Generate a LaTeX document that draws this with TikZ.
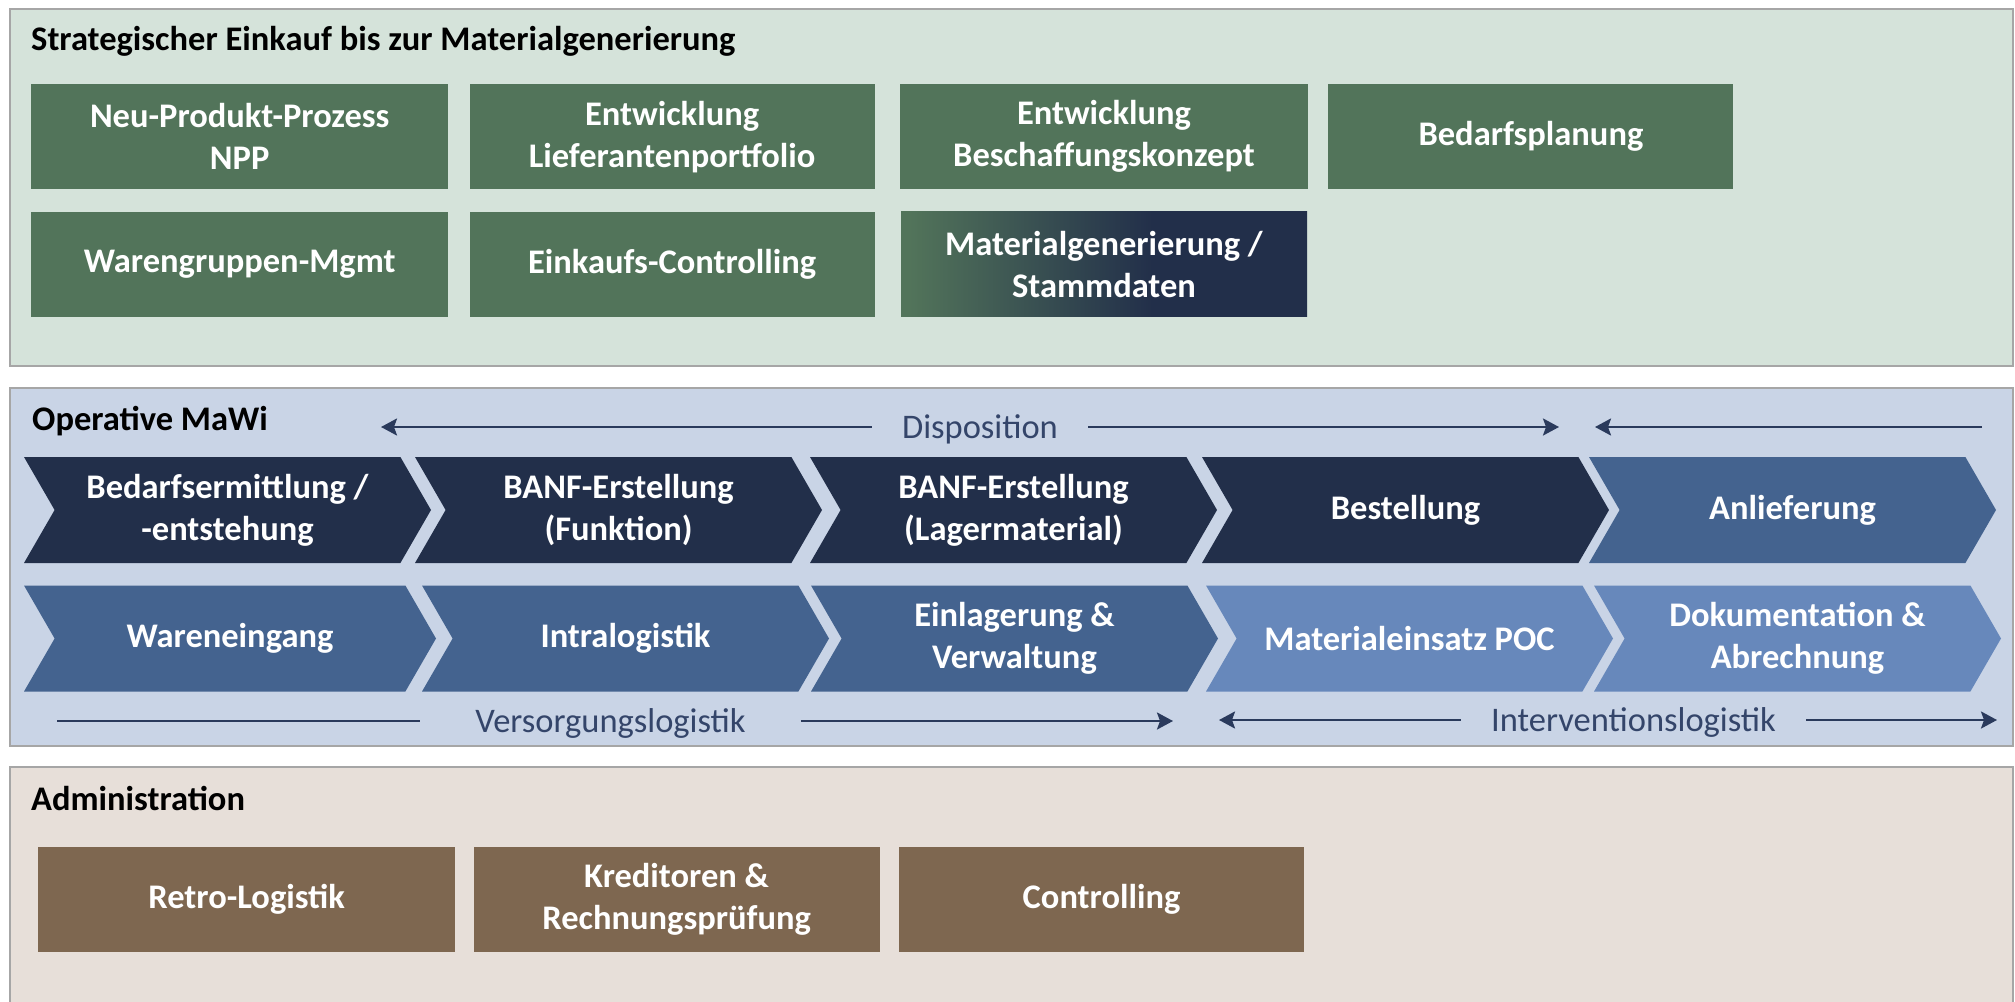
\documentclass[tikz,border=0pt]{standalone}
\usepackage{fontspec}
\setmainfont{Carlito}
\usetikzlibrary{positioning,shapes.symbols,arrows.meta}

\definecolor{gruen}{HTML}{52745A}
\definecolor{gruenbg}{HTML}{D5E3DA}
\definecolor{navy}{HTML}{222F4A}
\definecolor{mittelblau}{HTML}{44638F}
\definecolor{hellblau}{HTML}{6788BB}
\definecolor{blaubg}{HTML}{C9D4E6}
\definecolor{braun}{HTML}{7E6750}
\definecolor{braunbg}{HTML}{E7DFD9}
\definecolor{rahmen}{HTML}{A6A6A6}
\definecolor{pfeilblau}{HTML}{2A3A5C}
\definecolor{beschrblau}{HTML}{34456A}

\pgfdeclarehorizontalshading{gruenzublau}{100bp}{color(0bp)=(gruen); color(26bp)=(gruen); color(56bp)=(navy); color(100bp)=(navy)}

\begin{document}
\begin{tikzpicture}[x=1pt,y=-1pt,
    every node/.style={font=\fontsize{34.5}{42}\selectfont},
    panel/.style={draw=rahmen,line width=2.5pt},
    titel/.style={anchor=base west,inner sep=0pt,font=\fontsize{34.5}{42}\selectfont\bfseries},
    kachel/.style={rectangle,minimum height=105pt,inner sep=2pt,align=center,
                   text=white,font=\fontsize{34.5}{42}\selectfont\bfseries},
    gruenkachel/.style={kachel,fill=gruen},
    braunkachel/.style={kachel,fill=braun},
    chevron/.style={signal,signal to=east,signal from=west,signal pointer angle=120,
                    minimum width=407pt,minimum height=106pt,inner sep=0pt,align=center,
                    text=white,font=\fontsize{34.5}{42}\selectfont\bfseries},
    beschr/.style={text=beschrblau,text height=22pt,text depth=0pt,inner ysep=0pt,inner xsep=30pt},
    pfeil/.style={draw=pfeilblau,line width=2.5pt,-{Stealth[length=16pt,width=17pt,inset=3pt]}},
    linie/.style={draw=pfeilblau,line width=2.5pt}]

  \useasboundingbox (0,0) rectangle (2015,1001);

  % Strategischer Einkauf
  \draw[panel,fill=gruenbg] (10,9) rectangle (2013,366);
  \node[titel] (t1) at (31,50) {Strategischer Einkauf bis zur Materialgenerierung};

  \node[gruenkachel,anchor=north west,minimum width=417pt] (npp) at (31,84) {Neu-Produkt-Prozess\\NPP};
  \node[gruenkachel,minimum width=405pt] (lief) [right=21pt of npp] {Entwicklung\\Lieferantenportfolio};
  \node[gruenkachel,minimum width=408pt] (beschaff) [right=25pt of lief] {Entwicklung\\Beschaffungskonzept};
  \node[gruenkachel,minimum width=405pt] (bedarf) [right=20pt of beschaff] {Bedarfsplanung};
  \node[gruenkachel,minimum width=417pt] (wgm) [below=22pt of npp] {Warengruppen-Mgmt};
  \node[gruenkachel,minimum width=405pt] (ectrl) [below=22pt of lief] {Einkaufs-Controlling};
  \node[kachel,shading=gruenzublau,minimum width=406pt] (matgen) [below=22pt of beschaff] {Materialgenerierung /\\Stammdaten};

  % Operative MaWi
  \draw[panel,fill=blaubg] (10,388) rectangle (2013,746);
  \node[titel] (t2) at (32,430) {Operative MaWi};

  \node[beschr] (dispo) at (980,427) {Disposition};
  \coordinate (dispoL) at (381,427);
  \coordinate (dispoR) at (1559,427);
  \coordinate (rueckA) at (1982,427);
  \coordinate (rueckB) at (1595,427);
  \draw[pfeil] (dispo) -- (dispoL);
  \draw[pfeil] (dispo) -- (dispoR);
  \draw[pfeil] (rueckA) -- (rueckB);

  \node[chevron,fill=navy] (bedarfserm) at (227.5,510) {Bedarfsermittlung /\\-entstehung};
  \node[chevron,fill=navy] (banffkt) at (618.5,510) {BANF-Erstellung\\(Funktion)};
  \node[chevron,fill=navy] (banflager) at (1013.5,510) {BANF-Erstellung\\(Lagermaterial)};
  \node[chevron,fill=navy] (bestell) at (1405.5,510) {Bestellung};
  \node[chevron,fill=mittelblau] (anlief) at (1792.5,510) {Anlieferung};

  \node[chevron,fill=mittelblau,minimum width=412pt] (wareneing) at (230,638.5) {Wareneingang};
  \node[chevron,fill=mittelblau] (intralog) at (625.5,638.5) {Intralogistik};
  \node[chevron,fill=mittelblau] (einlager) at (1014.5,638.5) {Einlagerung \&\\Verwaltung};
  \node[chevron,fill=hellblau] (poc) at (1409.5,638.5) {Materialeinsatz POC};
  \node[chevron,fill=hellblau] (doku) at (1797.5,638.5) {Dokumentation \&\\Abrechnung};

  \node[beschr,inner xsep=55pt] (versorg) at (610.5,721) {Versorgungslogistik};
  \coordinate (versorgL) at (57,721);
  \coordinate (versorgR) at (1173,721);
  \draw[linie] (versorgL) -- (versorg);
  \draw[pfeil] (versorg) -- (versorgR);

  \node[beschr] (interv) at (1633.5,720) {Interventionslogistik};
  \coordinate (intervL) at (1219,720);
  \coordinate (intervR) at (1997,720);
  \draw[pfeil] (interv) -- (intervL);
  \draw[pfeil] (interv) -- (intervR);

  % Administration
  \draw[panel,fill=braunbg] (10,767) rectangle (2013,1012);
  \node[titel] (t3) at (31,810) {Administration};

  \node[braunkachel,anchor=north west,minimum width=417pt] (retro) at (38,847) {Retro-Logistik};
  \node[braunkachel,minimum width=406pt] (kred) [right=18pt of retro] {Kreditoren \&\\Rechnungsprüfung};
  \node[braunkachel,minimum width=405pt] (ctrl) [right=19pt of kred] {Controlling};
\end{tikzpicture}
\end{document}
